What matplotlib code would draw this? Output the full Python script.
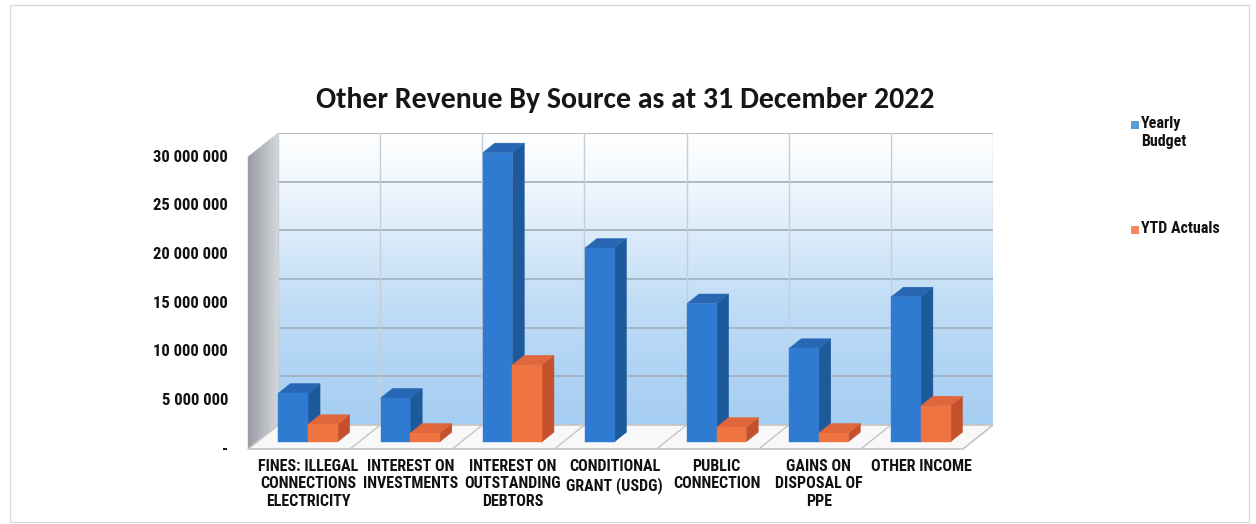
import numpy as np
import matplotlib
matplotlib.use('Agg')
import matplotlib.pyplot as plt
from matplotlib.patches import Polygon, Rectangle
from matplotlib.colors import LinearSegmentedColormap, to_rgb

# revenue by source, rand
categories = ['FINES: ILLEGAL\nCONNECTIONS\nELECTRICITY', 'INTEREST ON\nINVESTMENTS',
              'INTEREST ON\nOUTSTANDING\nDEBTORS', 'CONDITIONAL\nGRANT (USDG)',
              'PUBLIC\nCONNECTION', 'GAINS ON\nDISPOSAL OF\nPPE', 'OTHER INCOME']
yearly_budget = [5_000_000, 4_500_000, 29_700_000, 19_900_000, 14_200_000, 9_600_000, 14_900_000]
ytd_actuals = [1_800_000, 900_000, 7_900_000, 0, 1_500_000, 900_000, 3_700_000]
series_names = ['Yearly\nBudget', 'YTD Actuals']
y_ticks = [0, 5_000_000, 10_000_000, 15_000_000, 20_000_000, 25_000_000, 30_000_000]
title = 'Other Revenue By Source as at 31 December 2022'

label_font = ['Roboto Condensed', 'Liberation Sans']
title_font = ['Carlito', 'Lato']
W, H = 1256, 524
fig = plt.figure(figsize=(W / 100, H / 100), dpi=100)

# back wall of the 3d box, pixel extents
wl, wr, wt, wb = 278, 993, 133, 425
ax = fig.add_axes([wl / W, 1 - wb / H, (wr - wl) / W, (wb - wt) / H])
n = len(categories)
ax.set_xlim(0, n)
ax.set_ylim(0, y_ticks[-1])
ax.axis('off')

# depth of the floor in pixels (front edge is down-left of the back wall)
px_x = (wr - wl) / n
px_y = (wb - wt) / y_ticks[-1]
ddx = -30 / px_x
ddy = -24 / px_y


def P(x, y, d):
    return (x + d * ddx, y + d * ddy)


def face(pts, color, z):
    ax.add_patch(Polygon(pts, closed=True, facecolor=color, edgecolor=color,
                         lw=0.3, clip_on=False, zorder=z))


# back wall gradient, white at the top to light blue near the floor
grad = np.linspace(0, 1, 256).reshape(-1, 1)
wall_cmap = LinearSegmentedColormap.from_list(
    'wall', [(0, '#ffffff'), (0.15, '#f3f8fe'), (0.35, '#dbebfa'),
             (0.55, '#c4dff7'), (0.8, '#b0d4f4'), (1, '#a6cdf2')])
ax.imshow(grad, extent=(0, n, 0, y_ticks[-1]), aspect='auto', cmap=wall_cmap,
          origin='upper', zorder=0)
for v in y_ticks[1:]:
    ax.plot([0, n], [v, v], color='#a2afbb', lw=1.2, zorder=1)
for i in range(n + 1):
    ax.plot([i, i], [0, y_ticks[-1]], color='#c6cdd4', lw=1.0, zorder=1)

# side wall, shaded in strips
c0, c1 = np.array(to_rgb('#959aa0')), np.array(to_rgb('#d0d3d7'))
steps = 40
for k in range(steps):
    d0, d1 = 1 - k / steps, 1 - (k + 1) / steps
    col = c0 + (c1 - c0) * (k / (steps - 1))
    face([P(0, 0, d0), P(0, 0, d1), P(0, y_ticks[-1], d1), P(0, y_ticks[-1], d0)], col, 2)

# floor
ax.add_patch(Polygon([P(0, 0, 1), P(n, 0, 1), P(n, 0, 0), P(0, 0, 0)], closed=True,
                     facecolor='#f8f8f8', edgecolor='#c4c4c4', lw=1.2, clip_on=False, zorder=2))
for i in range(1, n):
    ax.plot(*zip(P(i, 0, 1), P(i, 0, 0)), color='#c4c4c4', lw=1.0, clip_on=False, zorder=2)

# bars
bar_w = 0.29
d_front, d_back = 0.7, 0.3
shades = [('#2e7bd1', '#1d5a9b', '#2767b3'), ('#ee7541', '#c4512c', '#e0673b')]
for i in range(n):
    for j, vals in enumerate([yearly_budget, ytd_actuals]):
        v = vals[i]
        if v <= 0:
            continue
        x0 = i + 0.5 - bar_w + j * bar_w
        x1 = x0 + bar_w
        front, side, top = shades[j]
        z = 3 + i * 0.1 + j * 0.01
        face([P(x1, 0, d_front), P(x1, 0, d_back), P(x1, v, d_back), P(x1, v, d_front)], side, z)
        face([P(x0, v, d_front), P(x1, v, d_front), P(x1, v, d_back), P(x0, v, d_back)], top, z)
        face([P(x0, 0, d_front), P(x1, 0, d_front), P(x1, v, d_front), P(x0, v, d_front)], front, z)

# value axis labels along the front edge
for v in y_ticks:
    lab = '-' if v == 0 else f'{v:,.0f}'.replace(',', ' ')
    x, y = P(0, v, 1)
    ax.text(x - 20 / px_x, y, lab, ha='right', va='center', fontsize=12,
            fontweight='bold', family=label_font, color='#111111', clip_on=False)

# category labels
_, y_front = P(0, 0, 1)
for i, c in enumerate(categories):
    x, _ = P(i + 0.5, 0, d_front)
    ax.text(x, y_front - 10 / px_y, c, ha='center', va='top', fontsize=11.5,
            fontweight='bold', family=label_font, color='#111111',
            linespacing=1.2, clip_on=False)

fig.text(625 / W, 1 - 100 / H, title, ha='center', va='center', fontsize=21.5,
         fontweight='bold', family=title_font, color='#161616')

# legend
legend_cols = ['#5b9bd5', '#f28a5e']
legend_y = [125, 230]
for name, col, ly in zip(series_names, legend_cols, legend_y):
    fig.add_artist(Rectangle((1131 / W, 1 - (ly + 4) / H), 8 / W, 8 / H,
                             transform=fig.transFigure, facecolor=col, edgecolor='none'))
    fig.text(1141 / W, 1 - (ly - 9) / H, name, ha='left', va='top', fontsize=11.5,
             fontweight='bold', family=label_font, color='#111111', linespacing=1.25)

# chart frame
fig.add_artist(Rectangle((10 / W, 2 / H), 1239 / W, 517 / H, transform=fig.transFigure,
                         facecolor='none', edgecolor='#d9d9d9', lw=1.0))

fig.savefig('out.png', dpi=100, facecolor='white')
